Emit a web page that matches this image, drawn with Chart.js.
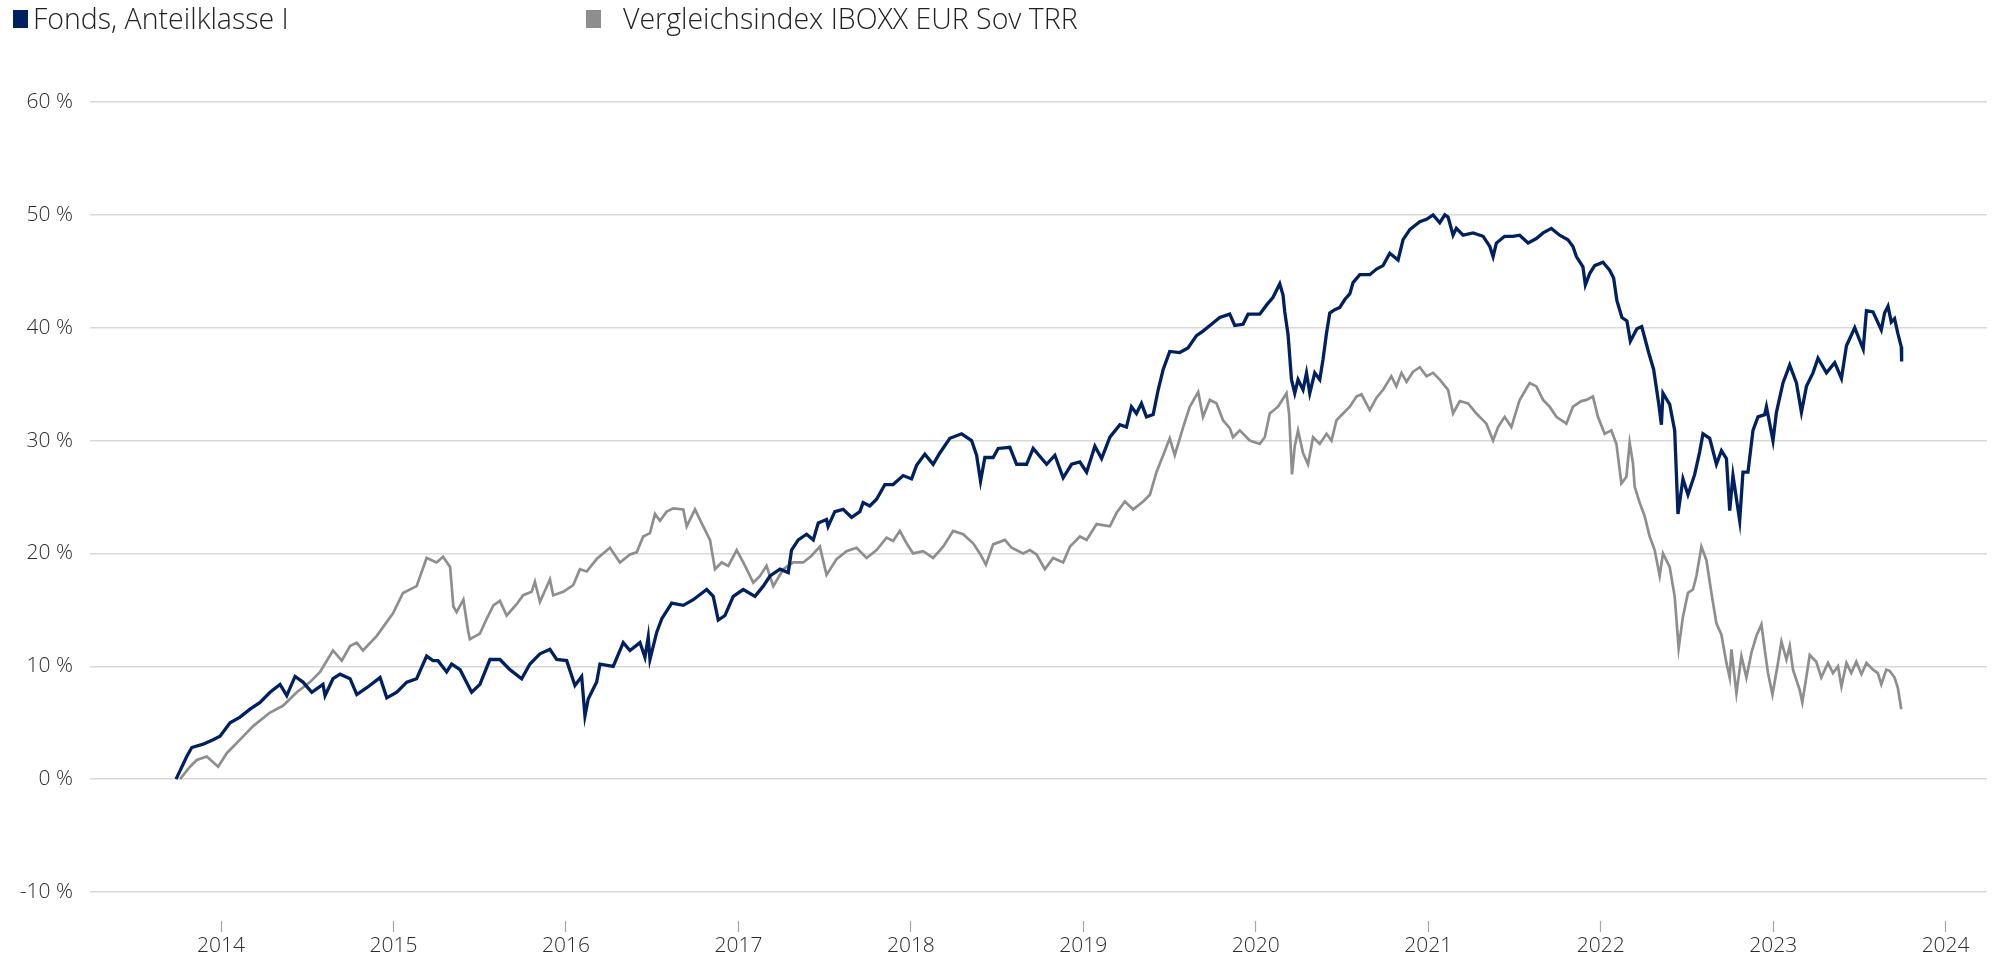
<!DOCTYPE html>
<html>
<head>
<meta charset="utf-8">
<script src="https://cdn.jsdelivr.net/npm/chart.js@4.4.0/dist/chart.umd.min.js"></script>
<style>
  body { margin: 0; background: #fff; }
  #wrap { position: relative; width: 1993px; height: 958px; }
  #myChart { position: absolute; left: 0; top: 0; }
  .box { position: absolute; top: 10px; width: 15px; height: 18px; }
  .txt { position: absolute; top: 1px; font-family: "Open Sans"; font-weight: 300; font-size: 28.5px; line-height: 34px; color: #1f1f1f; white-space: nowrap; }
</style>
</head>
<body>
<div id="wrap">
  <canvas id="myChart" width="1993" height="958"></canvas>
  <div id="legend"></div>
</div>
<script>
// decimal years
let fundX = [2013.739, 2013.801, 2013.830, 2013.896, 2013.954, 2013.994,
  2014.052, 2014.110, 2014.168, 2014.226, 2014.284, 2014.342, 2014.381, 2014.429, 2014.475, 2014.526, 2014.591, 2014.603, 2014.649, 2014.690, 2014.748, 2014.787, 2014.845, 2014.922, 2014.961,
  2015.019, 2015.077, 2015.134, 2015.192, 2015.229, 2015.258, 2015.308, 2015.337, 2015.386, 2015.453, 2015.501, 2015.559, 2015.617, 2015.675, 2015.743, 2015.791, 2015.849, 2015.907, 2015.946,
  2016.004, 2016.052, 2016.091, 2016.110, 2016.129, 2016.178, 2016.197, 2016.274, 2016.332, 2016.371, 2016.429, 2016.458, 2016.477, 2016.487, 2016.526, 2016.555, 2016.613, 2016.680, 2016.738, 2016.816, 2016.854, 2016.883, 2016.922, 2016.970,
  2017.028, 2017.096, 2017.144, 2017.183, 2017.241, 2017.289, 2017.308, 2017.347, 2017.395, 2017.434, 2017.463, 2017.511, 2017.520, 2017.559, 2017.607, 2017.656, 2017.704, 2017.723, 2017.762, 2017.801, 2017.849, 2017.897, 2017.955,
  2018.004, 2018.033, 2018.081, 2018.129, 2018.168, 2018.226, 2018.294, 2018.352, 2018.381, 2018.404, 2018.429, 2018.477, 2018.506, 2018.574, 2018.613, 2018.671, 2018.709, 2018.787, 2018.835, 2018.883, 2018.932, 2018.980,
  2019.019, 2019.067, 2019.106, 2019.154, 2019.212, 2019.250, 2019.279, 2019.308, 2019.337, 2019.366, 2019.405, 2019.434, 2019.463, 2019.501, 2019.559, 2019.607, 2019.656, 2019.694, 2019.743, 2019.791, 2019.849, 2019.878, 2019.926, 2019.955,
  2020.023, 2020.062, 2020.100, 2020.139, 2020.158, 2020.168, 2020.187, 2020.207, 2020.226, 2020.245, 2020.274, 2020.294, 2020.313, 2020.342, 2020.371, 2020.390, 2020.410, 2020.429,
  2020.458, 2020.487, 2020.516, 2020.545, 2020.564, 2020.603, 2020.661, 2020.700, 2020.738, 2020.777, 2020.825, 2020.854, 2020.893, 2020.951, 2020.990,
  2021.028, 2021.067, 2021.096, 2021.115, 2021.144, 2021.163, 2021.202, 2021.260, 2021.318, 2021.357, 2021.376, 2021.395, 2021.443, 2021.491, 2021.530, 2021.579, 2021.627, 2021.666, 2021.714, 2021.762, 2021.810, 2021.839, 2021.859, 2021.897, 2021.911, 2021.936, 2021.965,
  2022.013, 2022.052, 2022.075, 2022.094, 2022.123, 2022.152, 2022.172, 2022.210, 2022.238, 2022.278, 2022.307, 2022.336, 2022.352, 2022.361, 2022.400, 2022.429, 2022.448, 2022.477, 2022.506, 2022.545, 2022.574, 2022.593, 2022.632, 2022.671, 2022.700, 2022.729, 2022.748, 2022.767, 2022.806, 2022.825, 2022.854, 2022.883, 2022.912, 2022.951, 2022.961, 2022.999,
  2023.019, 2023.057, 2023.096, 2023.135, 2023.164, 2023.193, 2023.231, 2023.260, 2023.309, 2023.357, 2023.396, 2023.425, 2023.473, 2023.522, 2023.541,
  2023.579, 2023.627, 2023.646, 2023.666, 2023.685, 2023.704, 2023.723, 2023.743, 2023.745];
let fundY = [0.0, 2.0, 2.8, 3.1, 3.5, 3.8,
  5.0, 5.5, 6.2, 6.8, 7.7, 8.4, 7.4, 9.1, 8.6, 7.7, 8.4, 7.4, 8.9, 9.3, 8.9, 7.5, 8.1, 9.0, 7.2,
  7.7, 8.6, 8.9, 10.9, 10.5, 10.5, 9.5, 10.2, 9.7, 7.7, 8.4, 10.6, 10.6, 9.7, 8.9, 10.2, 11.1, 11.5, 10.6,
  10.5, 8.3, 9.1, 5.6, 7.1, 8.6, 10.2, 10.0, 12.1, 11.4, 12.1, 10.8, 12.6, 10.6, 13.0, 14.2, 15.6, 15.4, 15.9, 16.8, 16.2, 14.1, 14.5, 16.2,
  16.8, 16.2, 17.1, 18.0, 18.6, 18.3, 20.3, 21.2, 21.7, 21.2, 22.7, 23.0, 22.4, 23.7, 23.9, 23.2, 23.7, 24.5, 24.2, 24.8, 26.1, 26.1, 26.9,
  26.6, 27.8, 28.8, 27.9, 28.9, 30.2, 30.6, 30.0, 28.7, 26.4, 28.5, 28.5, 29.3, 29.4, 27.9, 27.9, 29.3, 27.9, 28.7, 26.7, 27.9, 28.1,
  27.2, 29.5, 28.4, 30.3, 31.4, 31.2, 33.0, 32.4, 33.3, 32.1, 32.3, 34.5, 36.3, 37.9, 37.8, 38.2, 39.3, 39.7, 40.3, 40.9, 41.2, 40.2, 40.3, 41.2,
  41.2, 42.0, 42.7, 43.9, 42.9, 41.4, 39.4, 35.4, 34.2, 35.4, 34.5, 36.0, 34.2, 36.0, 35.4, 37.2, 39.5, 41.3,
  41.6, 41.8, 42.5, 43.0, 44.0, 44.7, 44.7, 45.2, 45.5, 46.6, 46.0, 47.8, 48.7, 49.4, 49.6,
  50.0, 49.3, 50.0, 49.8, 48.2, 48.8, 48.2, 48.4, 48.1, 47.2, 46.3, 47.5, 48.1, 48.1, 48.2, 47.5, 47.9, 48.4, 48.8, 48.2, 47.8, 47.2, 46.3, 45.4, 43.8, 44.8, 45.5,
  45.8, 45.1, 44.4, 42.4, 40.9, 40.6, 38.8, 39.9, 40.1, 37.8, 36.3, 33.3, 31.4, 34.2, 33.2, 30.9, 23.5, 26.6, 25.2, 27.0, 29.0, 30.6, 30.2, 27.9, 29.1, 28.4, 23.8, 26.9, 22.9, 27.2, 27.2, 30.9, 32.1, 32.3, 33.0, 30.0,
  32.5, 35.1, 36.7, 35.1, 32.5, 34.8, 36.0, 37.3, 36.0, 36.9, 35.5, 38.4, 40.0, 38.1, 41.5,
  41.4, 39.8, 41.3, 41.9, 40.5, 40.8, 39.5, 38.3, 37.0];

let indexX = [2013.762, 2013.820, 2013.859, 2013.917, 2013.983,
  2014.033, 2014.110, 2014.186, 2014.284, 2014.359, 2014.439, 2014.516, 2014.574, 2014.649, 2014.700, 2014.748, 2014.787, 2014.823, 2014.903, 2014.997,
  2015.055, 2015.134, 2015.192, 2015.250, 2015.287, 2015.328, 2015.347, 2015.366, 2015.405, 2015.434, 2015.443, 2015.501, 2015.540, 2015.579, 2015.617, 2015.656, 2015.714, 2015.752, 2015.801, 2015.820, 2015.849, 2015.907, 2015.926, 2015.984,
  2016.042, 2016.081, 2016.120, 2016.178, 2016.255, 2016.313, 2016.371, 2016.410, 2016.448, 2016.487, 2016.516, 2016.545, 2016.584, 2016.622, 2016.680, 2016.700, 2016.748, 2016.796, 2016.835, 2016.864, 2016.903, 2016.941, 2016.990,
  2017.028, 2017.048, 2017.086, 2017.125, 2017.163, 2017.202, 2017.260, 2017.318, 2017.376, 2017.424, 2017.472, 2017.511, 2017.569, 2017.627, 2017.685, 2017.743, 2017.801, 2017.859, 2017.897, 2017.936, 2017.975,
  2018.013, 2018.071, 2018.129, 2018.187, 2018.245, 2018.303, 2018.361, 2018.400, 2018.435, 2018.477, 2018.545, 2018.584, 2018.651, 2018.690, 2018.729, 2018.777, 2018.825, 2018.883, 2018.922, 2018.980,
  2019.019, 2019.077, 2019.154, 2019.193, 2019.241, 2019.289, 2019.347, 2019.386, 2019.424, 2019.463, 2019.501, 2019.530, 2019.579, 2019.617, 2019.666, 2019.694, 2019.733, 2019.772, 2019.810, 2019.849, 2019.868, 2019.907, 2019.965,
  2020.023, 2020.052, 2020.081, 2020.129, 2020.178, 2020.193, 2020.210, 2020.226, 2020.245, 2020.274, 2020.303, 2020.332, 2020.371, 2020.410, 2020.439, 2020.468, 2020.506, 2020.545, 2020.584, 2020.613, 2020.661, 2020.700, 2020.738, 2020.786, 2020.815, 2020.845, 2020.874, 2020.912, 2020.951, 2020.990,
  2021.028, 2021.067, 2021.115, 2021.144, 2021.183, 2021.231, 2021.279, 2021.337, 2021.376, 2021.405, 2021.443, 2021.482, 2021.530, 2021.588, 2021.627, 2021.666, 2021.704, 2021.743, 2021.801, 2021.839, 2021.888, 2021.917, 2021.955, 2021.984,
  2022.023, 2022.062, 2022.091, 2022.120, 2022.149, 2022.168, 2022.187, 2022.197, 2022.226, 2022.255, 2022.284, 2022.313, 2022.342, 2022.361, 2022.400, 2022.429, 2022.452, 2022.477, 2022.506, 2022.535, 2022.555, 2022.584, 2022.613, 2022.642, 2022.671, 2022.700, 2022.729, 2022.748, 2022.758, 2022.787, 2022.816, 2022.845, 2022.874, 2022.903, 2022.932, 2022.951, 2022.970, 2022.996,
  2023.028, 2023.048, 2023.077, 2023.096, 2023.115, 2023.154, 2023.169, 2023.193, 2023.212, 2023.250, 2023.279, 2023.318, 2023.347, 2023.376, 2023.396, 2023.425, 2023.453, 2023.482, 2023.512, 2023.541, 2023.579, 2023.607, 2023.627, 2023.656, 2023.675, 2023.704, 2023.723, 2023.743];
let indexY = [0.0, 1.1, 1.7, 2.0, 1.1,
  2.3, 3.5, 4.7, 5.9, 6.5, 7.7, 8.6, 9.5, 11.4, 10.5, 11.8, 12.1, 11.4, 12.7, 14.7,
  16.5, 17.1, 19.6, 19.2, 19.7, 18.8, 15.3, 14.8, 15.9, 13.0, 12.4, 12.9, 14.2, 15.4, 15.8, 14.5, 15.5, 16.3, 16.6, 17.5, 15.7, 17.7, 16.3, 16.6,
  17.2, 18.6, 18.4, 19.5, 20.5, 19.2, 19.9, 20.1, 21.5, 21.8, 23.5, 22.9, 23.7, 24.0, 23.9, 22.4, 23.9, 22.4, 21.2, 18.6, 19.2, 18.9, 20.3,
  19.2, 18.6, 17.4, 18.0, 18.9, 17.1, 18.6, 19.2, 19.2, 19.8, 20.6, 18.1, 19.5, 20.2, 20.5, 19.6, 20.3, 21.4, 21.1, 22.0, 20.9,
  20.0, 20.2, 19.6, 20.6, 22.0, 21.7, 20.9, 20.0, 19.0, 20.8, 21.2, 20.5, 20.0, 20.3, 19.9, 18.6, 19.6, 19.2, 20.6, 21.5,
  21.2, 22.6, 22.4, 23.6, 24.6, 23.9, 24.6, 25.2, 27.2, 28.7, 30.2, 28.7, 31.2, 33.0, 34.3, 32.1, 33.6, 33.3, 31.8, 31.1, 30.3, 30.9, 30.0,
  29.7, 30.3, 32.4, 33.0, 34.2, 32.4, 27.0, 29.5, 30.9, 28.9, 27.9, 30.3, 29.7, 30.6, 30.0, 31.8, 32.4, 33.0, 33.9, 34.1, 32.7, 33.8, 34.5, 35.7, 34.8, 36.0, 35.2, 36.1, 36.5, 35.7,
  36.0, 35.4, 34.5, 32.4, 33.5, 33.3, 32.4, 31.5, 30.0, 31.2, 32.1, 31.2, 33.6, 35.1, 34.8, 33.6, 33.0, 32.1, 31.5, 33.0, 33.5, 33.6, 33.9, 32.1,
  30.6, 30.9, 29.7, 26.2, 26.8, 29.8, 28.0, 25.9, 24.5, 23.3, 21.5, 20.3, 18.0, 20.0, 18.8, 16.2, 11.6, 14.4, 16.5, 16.8, 18.0, 20.6, 19.4, 16.5, 13.8, 12.8, 10.3, 9.0, 11.5, 7.6, 10.9, 9.0, 11.2, 12.7, 13.7, 11.5, 9.4, 7.5,
  10.3, 12.2, 10.6, 11.8, 9.7, 7.9, 6.8, 9.1, 11.0, 10.4, 9.0, 10.3, 9.4, 10.0, 8.2, 10.3, 9.4, 10.4, 9.3, 10.3, 9.7, 9.4, 8.4, 9.7, 9.6, 9.0, 8.1, 6.2];

let yearTicks = [2014, 2015, 2016, 2017, 2018, 2019, 2020, 2021, 2022, 2023, 2024];
let percentTicks = [-10, 0, 10, 20, 30, 40, 50, 60];
let seriesNames = ['Fonds, Anteilklasse I', 'Vergleichsindex IBOXX EUR Sov TRR'];

var tickFont = { family: 'Open Sans', size: 21, weight: '300' };

function toPoints(xs, ys) {
    return xs.map(function (x, i) { return { x: x, y: ys[i] }; });
}

function createChart(ctx) {
    var myChart = new Chart(ctx, {
        type: 'line',
        data: {
            datasets: [{
                label: seriesNames[0],
                data: toPoints(fundX, fundY),
                borderColor: '#002060',
                backgroundColor: '#002060',
                borderWidth: 3.3,
                pointRadius: 0,
                tension: 0
            }, {
                label: seriesNames[1],
                data: toPoints(indexX, indexY),
                borderColor: '#8e8e8e',
                backgroundColor: '#8e8e8e',
                borderWidth: 2.7,
                pointRadius: 0,
                tension: 0
            }]
        },
        options: {
            responsive: false,
            animation: false,
            layout: { padding: { top: 102, right: 6, left: 0, bottom: 0 } },
            plugins: { legend: { display: false }, tooltip: { enabled: false } },
            scales: {
                x: {
                    type: 'linear',
                    min: 2013.24,
                    max: 2024.24,
                    afterBuildTicks: function (s) { s.ticks = yearTicks.map(function (v) { return { value: v }; }); },
                    afterFit: function (s) { s.height = 37; },
                    grid: { drawOnChartArea: false, drawTicks: true, tickLength: 11, tickColor: '#a6a6a6', tickWidth: 1.2 },
                    border: { display: false },
                    ticks: { font: tickFont, color: '#2b2b2b', padding: 1, maxRotation: 0, autoSkip: false,
                        callback: function (v) { return String(v); } }
                },
                y: {
                    min: -12.57,
                    max: 60,
                    afterBuildTicks: function (s) { s.ticks = percentTicks.map(function (v) { return { value: v }; }); },
                    afterFit: function (s) { s.width = 90; },
                    grid: { color: '#d9d9d9', lineWidth: 1.5, drawTicks: false },
                    border: { display: false },
                    ticks: { font: tickFont, color: '#2b2b2b', padding: 17,
                        callback: function (v) { return v + ' %'; } }
                }
            }
        }
    });
    return myChart;
}

function buildLegend(chart) {
    var lefts = [[13, 33], [586, 623]];
    var html = '';
    chart.data.datasets.forEach(function (ds, i) {
        html += '<div class="box" style="left:' + lefts[i][0] + 'px;background:' + ds.borderColor + '"></div>';
        html += '<div class="txt" style="left:' + lefts[i][1] + 'px">' + ds.label + '</div>';
    });
    document.getElementById('legend').innerHTML = html;
}

window.addEventListener('load', function () {
    var ctx = document.getElementById('myChart').getContext('2d');
    var chart = createChart(ctx);
    buildLegend(chart);
});
</script>
</body>
</html>
